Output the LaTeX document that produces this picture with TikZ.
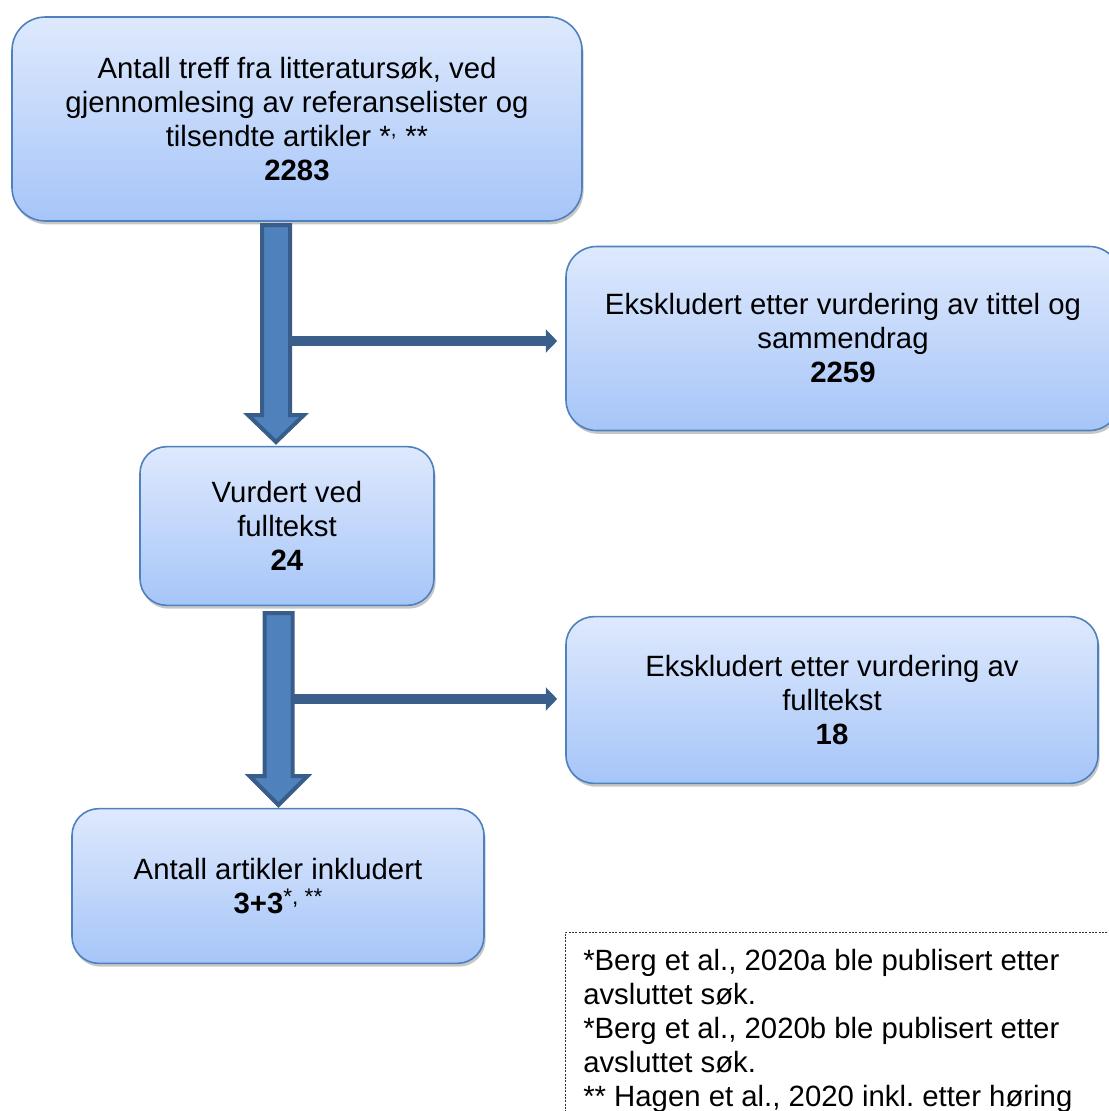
\documentclass[tikz,border=0pt]{standalone}
\usepackage{fontspec}
\setmainfont{Liberation Sans}
\usetikzlibrary{shadows,arrows.meta,calc}
\definecolor{boxborder}{HTML}{4F81BD}
\definecolor{boxtop}{HTML}{DEE9FD}
\definecolor{boxbot}{HTML}{A6C5F8}
\definecolor{arrowfill}{HTML}{4F81BD}
\definecolor{arrowline}{HTML}{385D8A}
\definecolor{sidearrow}{HTML}{3A5F8B}
\frenchspacing
\begin{document}
\begin{tikzpicture}[x=0.75pt,y=-0.75pt,
  flowbox/.style={draw=boxborder, line width=1.2pt, top color=boxtop, bottom color=boxbot,
    align=center, font=\fontsize{22}{25.5}\selectfont, inner sep=0pt,
    drop shadow={shadow xshift=1.2pt, shadow yshift=-2.5pt, opacity=0.22, fill=black}},
  blockarrow/.style={fill=arrowfill, draw=arrowline, line width=3pt, line join=miter},
  sidearrowstyle/.style={draw=sidearrow, line width=7pt, -{Triangle[length=8.5pt,width=17pt]}},
  notestyle/.style={draw=black!80, line width=0.5pt, dash pattern=on 1.5pt off 1pt, inner sep=0pt},
  notetext/.style={align=left, font=\fontsize{22}{25.5}\selectfont, inner sep=0pt}
]
\useasboundingbox (0,0) rectangle (1109,1111);

% boxes
\node[flowbox, rounded corners=25pt, minimum width=427.5pt, minimum height=153pt] (top) at (297,119)
  {Antall treff fra litteratursøk, ved\\ gjennomlesing av referanselister og\\ tilsendte artikler *\textsuperscript{,} **\\ \textbf{2283}};
\node[flowbox, rounded corners=23pt, minimum width=415.5pt, minimum height=138pt] (ex1) at (843,338.5)
  {Ekskludert etter vurdering av tittel og\\ sammendrag\\ \textbf{2259}};
\node[flowbox, rounded corners=20pt, minimum width=220.5pt, minimum height=119pt] (mid) at (287,526)
  {Vurdert ved\\ fulltekst\\ \textbf{24}};
\node[flowbox, rounded corners=21pt, minimum width=399pt, minimum height=125pt] (ex2) at (832,700)
  {Ekskludert etter vurdering av\\ fulltekst\\ \textbf{18}};
\node[flowbox, rounded corners=20pt, minimum width=309pt, minimum height=116pt] (bot) at (278,886)
  {Antall artikler inkludert\\ \textbf{3+3}\raisebox{0.32em}{\fontsize{17}{17}\selectfont *, **}};

% block arrow 1
\coordinate (a1s) at (276,225);
\coordinate (a1e) at (276,442);
\draw[blockarrow] ($(a1s)+(-14,0)$) -- ($(a1s)+(14,0)$) -- ($(a1e)+(14,-27)$) -- ($(a1e)+(28,-27)$)
  -- (a1e) -- ($(a1e)+(-28,-27)$) -- ($(a1e)+(-14,-27)$) -- cycle;
\coordinate (h1s) at (289,341);
\draw[sidearrowstyle] (h1s) -- ($(h1s -| ex1.west)+(-8,0)$);

% block arrow 2
\coordinate (a2s) at (278.5,613);
\coordinate (a2e) at (278.5,805);
\draw[blockarrow] ($(a2s)+(-14,0)$) -- ($(a2s)+(14,0)$) -- ($(a2e)+(14,-29)$) -- ($(a2e)+(29,-29)$)
  -- (a2e) -- ($(a2e)+(-29,-29)$) -- ($(a2e)+(-14,-29)$) -- cycle;
\coordinate (h2s) at (292,699);
\draw[sidearrowstyle] (h2s) -- ($(h2s -| ex2.west)+(-8,0)$);

% note
\node[notestyle, anchor=north west, minimum width=412pt, minimum height=150pt] (note) at (565,932) {};
\node[notetext, anchor=north west] (notetxt) at (583,949)
  {*Berg et al., 2020a ble publisert etter\\ avsluttet søk.\\ *Berg et al., 2020b ble publisert etter\\ avsluttet søk.\\ ** Hagen et al., 2020 inkl. etter høring};
\end{tikzpicture}
\end{document}
